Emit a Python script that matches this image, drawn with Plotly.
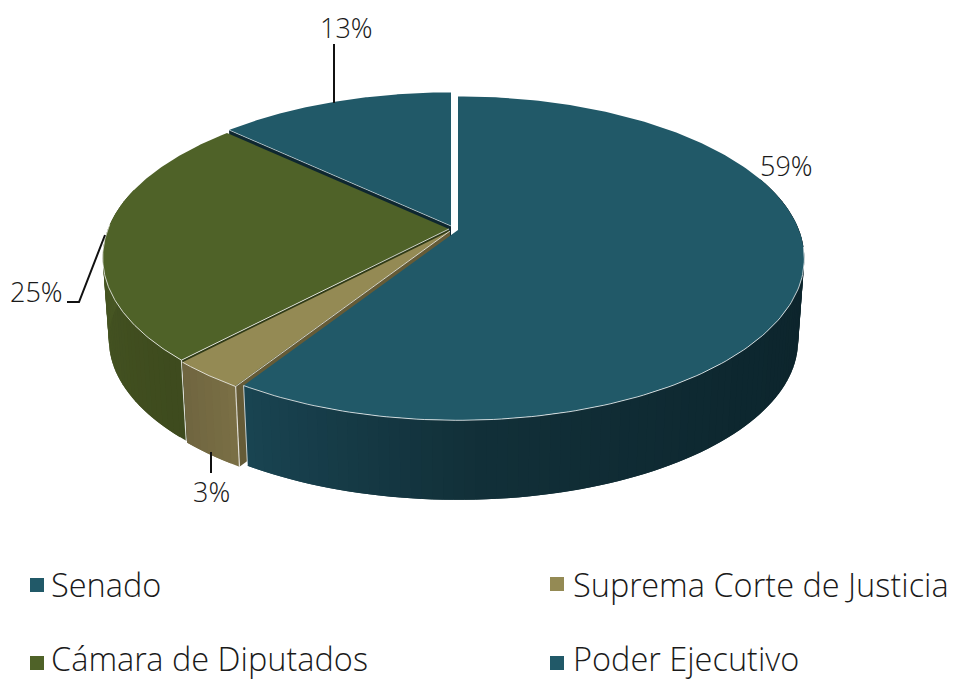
import numpy as np
import plotly.graph_objects as go

# --- data ---
names = ["Senado", "Suprema Corte de Justicia", "Cámara de Diputados", "Poder Ejecutivo"]
values = [59, 3, 25, 13]
labels = ["59%", "3%", "25%", "13%"]
top_colors = ["#215968", "#948A54", "#4F6228", "#215968"]

FONT = "Open Sans Light, Open Sans, sans-serif"
W, H = 956, 681

# --- projection of the tilted pie onto the page ---
X0, Y0, A, K, P = 450.0, 229.0, 341.0, 157.0, 0.175
DEPTH, SHRINK = 83.0, 0.982
offsets = [(8, 1), (0, 2), (-1, 0), (1, -3)]  # slice explosion


def project(theta, r=1.0, low=False, off=(0, 0)):
    """theta in degrees clockwise from 12 o'clock."""
    t = np.radians(theta)
    u, v = r * np.sin(t), r * np.cos(t)
    d = 1 + P * v
    s = SHRINK if low else 1.0
    return (X0 + off[0] + s * A * u / d,
            Y0 + off[1] + (DEPTH if low else 0) + s * (-K) * v / d)


def hex2rgb(c):
    return np.array([int(c[i:i + 2], 16) for i in (1, 3, 5)], dtype=float)


def ramp(stops, f):
    fs = [s[0] for s in stops]
    rgb = [np.interp(f, fs, [hex2rgb(s[1])[i] for s in stops]) for i in range(3)]
    return "rgb(%d,%d,%d)" % tuple(rgb)


fig = go.Figure()


def poly(xs, ys, fill, line=None, lw=0.0):
    fig.add_trace(go.Scatter(
        x=list(xs), y=list(ys), mode="lines", fill="toself", fillcolor=fill,
        line=dict(color=line or fill, width=lw), hoverinfo="skip", showlegend=False))


def stroke(xs, ys, color, width=1.0):
    fig.add_trace(go.Scatter(
        x=list(xs), y=list(ys), mode="lines", line=dict(color=color, width=width),
        hoverinfo="skip", showlegend=False))


cum = np.concatenate([[0], np.cumsum(values)]) / sum(values) * 360
spans = [(cum[i], cum[i + 1]) for i in range(len(values))]

wall_ramps = {
    0: [(0.0, "#0C2229"), (0.45, "#0E2830"), (0.75, "#123039"), (1.0, "#1A4553")],
    1: [(0.0, "#7A6F45"), (1.0, "#6F6540")],
    2: [(0.0, "#3E4B1E"), (1.0, "#4A5A25")],
    3: [(0.0, "#0F2A33"), (1.0, "#0F2A33")],
}
cut_colors = {1: "#655B37", 2: "#2F3A16", 3: "#0E2730"}
EDGE = "rgba(255,255,255,0.75)"

# painter's order: far slices first
for i in [3, 2, 1, 0]:
    a0, a1 = spans[i]
    off = offsets[i]

    # radial cut face that looks towards the viewer (counter-clockwise side)
    if i in cut_colors:
        xt, yt = project(a0, off=off)
        xb, yb = project(a0, low=True, off=off)
        ax, ay = project(0, r=0, off=off)
        bx, by = project(0, r=0, low=True, off=off)
        poly([ax, xt, xb, bx], [ay, yt, yb, by], cut_colors[i])

    # outer wall, as overlapping shaded strips painted one over the next
    lo = max(a0, 70) if i == 0 else a0
    hi = a1
    if i == 3:
        lo, hi = a0, a0  # back wall is hidden
    if i == 2:
        hi = min(a1, 285)
    if hi > lo:
        n = max(int((hi - lo) / 1.5), 2)
        th = np.linspace(lo, hi, n + 1)
        for j in range(n):
            seg = np.linspace(th[j], min(th[j] + 2 * (hi - lo) / n, hi), 4)
            xa, ya = project(seg, off=off)
            xb, yb = project(seg[::-1], low=True, off=off)
            poly(np.r_[xa, xb, xa[0]], np.r_[ya, yb, ya[0]], ramp(wall_ramps[i], j / n))

    # top face
    th = np.linspace(a0, a1, 200)
    xs, ys = project(th, off=off)
    ax, ay = project(0, r=0, off=off)
    poly(np.r_[ax, xs, ax], np.r_[ay, ys, ay], top_colors[i])

    # light edges on the visible rim and wall corners
    if i != 3:
        vis = th[(th > 95) & (th < 272)]
        if len(vis):
            xs, ys = project(vis, off=off)
            stroke(xs, ys, EDGE, 1)
    if i in (1, 2):
        xt, yt = project(a0, off=off)
        xb, yb = project(a0, low=True, off=off)
        stroke([xt, xb], [yt, yb], EDGE, 1.2)
    if i == 0:
        xt, yt = project(a1, off=off)
        xb, yb = project(a1, low=True, off=off)
        stroke([xt, xb], [yt, yb], EDGE, 1)
    if i in (1, 2):
        ax, ay = project(0, r=0, off=off)
        xt, yt = project(a0, off=off)
        stroke([ax, xt], [ay, yt], EDGE, 1)
    if i == 3:
        ax, ay = project(0, r=0, off=off)
        xt, yt = project(a0, off=off)
        stroke([ax, xt], [ay, yt], "rgba(255,255,255,0.5)", 1)

# leader lines
LEAD = "#111111"
stroke([334, 334], [44, 103], LEAD, 2)
stroke([67, 79, 105], [302, 302, 235], LEAD, 2)
stroke([211, 211], [452, 473], LEAD, 2)

# data labels
label_pos = [(786, 165), (211, 491), (36, 291), (346, 27)]
ann = [dict(x=x, y=y, text=t, showarrow=False, xanchor="center", yanchor="middle",
            font=dict(family=FONT, size=27, color="#1A1A1A", weight=300))
       for (x, y), t in zip(label_pos, labels)]

# legend
leg_sq = [(37, 585), (557, 584), (37, 663), (557, 663)]
leg_tx = [(49, 584), (571, 584), (49, 658.5), (571, 658.5)]
fig.add_trace(go.Scatter(
    x=[p[0] for p in leg_sq], y=[p[1] for p in leg_sq], mode="markers",
    marker=dict(symbol="square", size=14, color=top_colors, line=dict(width=0)),
    hoverinfo="skip", showlegend=False))
ann += [dict(x=x, y=y, text=t, showarrow=False, xanchor="left", yanchor="middle",
             font=dict(family=FONT, size=32.5, color="#1A1A1A", weight=300))
        for (x, y), t in zip(leg_tx, names)]

fig.update_layout(
    width=W, height=H, margin=dict(l=0, r=0, t=0, b=0),
    paper_bgcolor="white", plot_bgcolor="white", showlegend=False, annotations=ann,
    xaxis=dict(range=[0, W], visible=False, fixedrange=True),
    yaxis=dict(range=[H, 0], visible=False, fixedrange=True),
)
fig.write_html("out.html", config=dict(displayModeBar=False),
               post_script="document.body.style.margin='0';document.documentElement.style.overflow='hidden';")
